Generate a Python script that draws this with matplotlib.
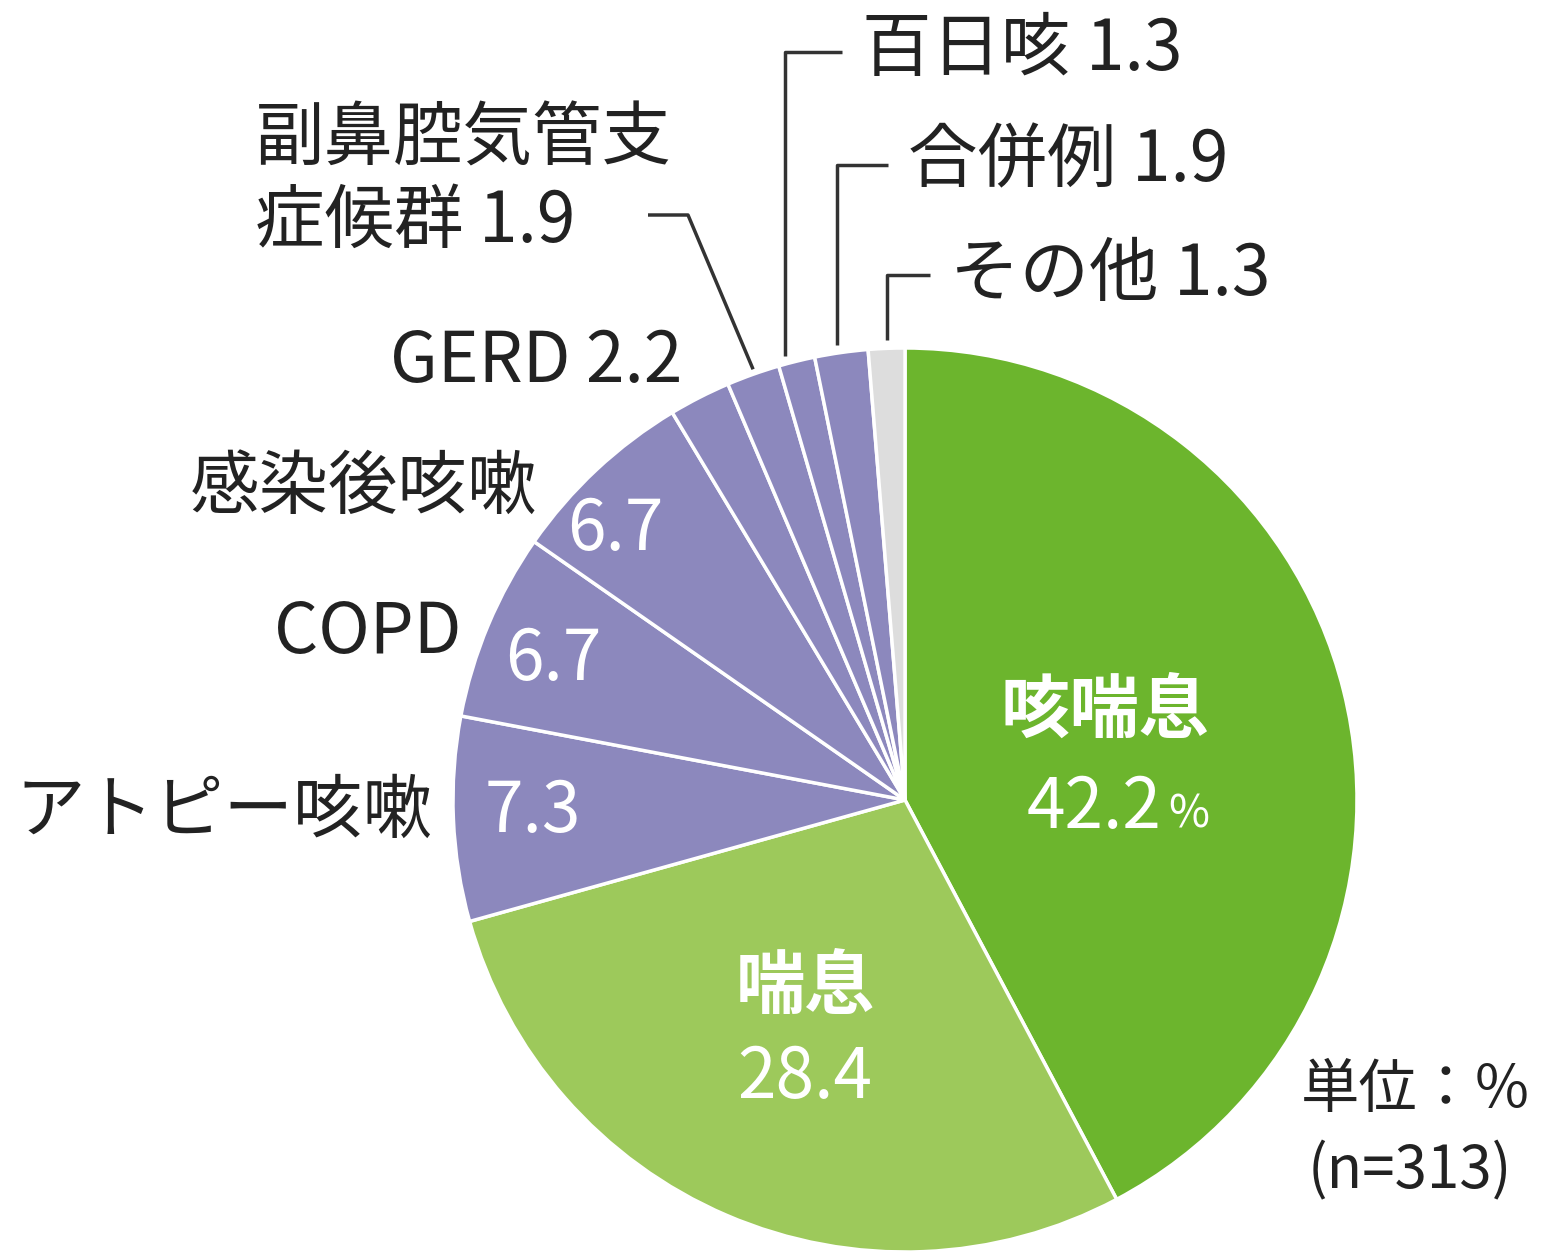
import numpy as np
import matplotlib.pyplot as plt

plt.rcParams['font.family'] = ['Noto Sans CJK JP', 'DejaVu Sans']

labels = ["咳喘息", "喘息", "アトピー咳嗽", "COPD", "感染後咳嗽", "GERD",
          "副鼻腔気管支\n症候群", "百日咳", "合併例", "その他"]
values = [42.2, 28.4, 7.3, 6.7, 6.7, 2.2, 1.9, 1.3, 1.9, 1.3]
colors = ["#6cb52d", "#9dc95b", "#8c88bd", "#8c88bd", "#8c88bd", "#8c88bd",
          "#8c88bd", "#8c88bd", "#8c88bd", "#dddddd"]

W, H = 1544, 1254
fig = plt.figure(figsize=(W / 100, H / 100), dpi=100)
ax = fig.add_axes([0, 0, 1, 1])

cx, cy, r = 905, H - 800, 452
wedges, _ = ax.pie(values, colors=colors, startangle=90, counterclock=False,
                   center=(cx, cy), radius=r,
                   wedgeprops=dict(edgecolor="white", linewidth=2.5))
ax.set_xlim(0, W)
ax.set_ylim(0, H)
ax.set_aspect("equal")
ax.axis("off")


def img(x, y):
    return x, H - y


def edge_pt(i, shift=0.0):
    w = wedges[i]
    a = np.deg2rad((w.theta1 + w.theta2) / 2 + shift)
    return cx + r * np.cos(a), cy + r * np.sin(a)


fs = 50
txt = dict(fontsize=fs, color="#222222")
white = dict(fontsize=fs, color="white")

# inside labels
ax.text(*img(1105, 712), labels[0], ha="center", va="center", fontweight="bold", **white)
ax.text(*img(1162, 808), f"{values[0]}", ha="right", va="center", **white)
ax.text(*img(1168, 815), "%", ha="left", va="center", fontsize=32, color="white")
ax.text(*img(805, 988), labels[1], ha="center", va="center", fontweight="bold", **white)
ax.text(*img(805, 1078), f"{values[1]}", ha="center", va="center", **white)
ax.text(*img(533, 812), f"{values[2]}", ha="center", va="center", **white)
ax.text(*img(553, 660), f"{values[3]}", ha="center", va="center", **white)
ax.text(*img(615, 530), f"{values[4]}", ha="center", va="center", **white)

# outside labels
ax.text(*img(432, 812), labels[2], ha="right", va="center", **txt)
ax.text(*img(462, 633), labels[3], ha="right", va="center", **txt)
ax.text(*img(537, 488), labels[4], ha="right", va="center", **txt)
ax.text(*img(682, 362), f"{labels[5]} {values[5]}", ha="right", va="center", **txt)
ax.text(*img(255, 140), labels[6].split("\n")[0], ha="left", va="center", **txt)
ax.text(*img(255, 222), f"{labels[6].split(chr(10))[1]} {values[6]}", ha="left", va="center", **txt)
ax.text(*img(862, 50), f"{labels[7]} {values[7]}", ha="left", va="center", **txt)
ax.text(*img(908, 162), f"{labels[8]} {values[8]}", ha="left", va="center", **txt)
ax.text(*img(950, 275), f"{labels[9]} {values[9]}", ha="left", va="center", **txt)

ax.text(*img(1415, 1090), "単位：%", ha="center", va="center", fontsize=42, color="#222222")
ax.text(*img(1410, 1172), "(n=313)", ha="center", va="center", fontsize=42, color="#222222")

# leader lines
lc = dict(color="#333333", lw=2.5, solid_capstyle="butt")
# 副鼻腔気管支症候群
ex, ey = edge_pt(6)
ax.plot([648, 688, ex], [H - 215, H - 215, ey + 5], **lc)
# 百日咳, 合併例, その他
for i, (ty, x2), sh in zip([7, 8, 9], [(52, 842), (165, 888), (275, 930)], [1.5, 0.5, 0]):
    ex, ey = edge_pt(i, sh)
    ax.plot([x2, ex, ex], [H - ty, H - ty, ey + 8], **lc)

plt.savefig("out.png", dpi=100)
